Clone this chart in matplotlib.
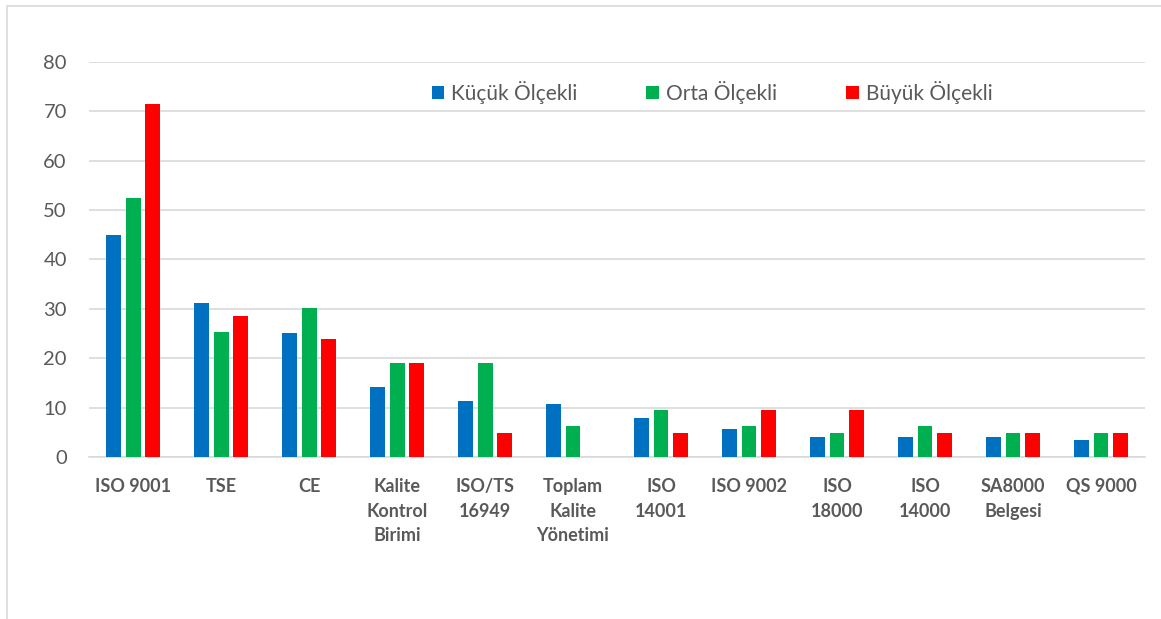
import numpy as np
import matplotlib.pyplot as plt
from matplotlib.patches import Rectangle

# categories and percentages per company size
categories = ["ISO 9001", "TSE", "CE", "Kalite\nKontrol\nBirimi", "ISO/TS\n16949",
              "Toplam\nKalite\nYönetimi", "ISO\n14001", "ISO 9002", "ISO\n18000",
              "ISO\n14000", "SA8000\nBelgesi", "QS 9000"]
kucuk = [45.0, 31.2, 25.0, 14.1, 11.3, 10.8, 7.9, 5.6, 4.0, 4.0, 4.0, 3.4]
orta = [52.4, 25.4, 30.2, 19.0, 19.0, 6.3, 9.5, 6.3, 4.8, 6.3, 4.8, 4.8]
buyuk = [71.4, 28.6, 23.8, 19.0, 4.8, 0.0, 4.8, 9.5, 9.5, 4.8, 4.8, 4.8]
series_names = ["Küçük Ölçekli", "Orta Ölçekli", "Büyük Ölçekli"]
colors = ["#0070c0", "#00b050", "#ff0000"]

plt.rcParams['font.family'] = ['Lato', 'DejaVu Sans']

fig = plt.figure(figsize=(11.61, 6.19), dpi=100)
ax = fig.add_axes([0.0767, 0.2617, 0.9095, 0.6386])

# outer chart border
fig.patches.append(Rectangle((0.006, -0.05), 0.999, 1.04, transform=fig.transFigure,
                             fill=False, edgecolor="#d9d9d9", linewidth=1.2))

x = np.arange(len(categories))
w = 0.17
step = 0.222
for i, (vals, name) in enumerate(zip([kucuk, orta, buyuk], series_names)):
    ax.bar(x + (i - 1) * step, vals, width=w, color=colors[i], label=name, zorder=3)

ax.set_xlim(-0.5, len(categories) - 0.5)
ax.set_ylim(0, 80)
ax.set_yticks(np.arange(0, 81, 10))
ax.set_xticks(x)
ax.set_xticklabels(categories, fontweight="bold", fontsize=13, color="#595959",
                   linespacing=1.55)
ax.tick_params(axis="y", labelsize=14.5, colors="#595959", length=0, pad=16)
ax.tick_params(axis="x", length=0, pad=15)
ax.grid(axis="y", color="#d9d9d9", linewidth=1.2, zorder=0)
for s in ["top", "right", "left"]:
    ax.spines[s].set_visible(False)
ax.spines["bottom"].set_color("#d9d9d9")
ax.spines["bottom"].set_linewidth(1.2)

leg = ax.legend(loc="center", bbox_to_anchor=(0.590, 0.923), ncol=3, frameon=False,
                fontsize=15, handlelength=0.6, handleheight=0.6, handletextpad=0.35,
                columnspacing=3.3)
for t in leg.get_texts():
    t.set_color("#595959")

fig.savefig("out.png", dpi=100)
